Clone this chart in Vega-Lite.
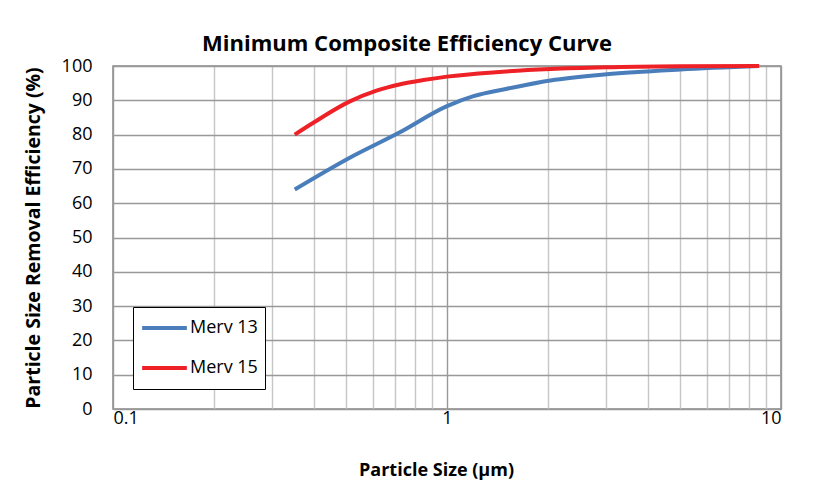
{
  "$schema": "https://vega.github.io/schema/vega-lite/v6.json",
  "width": 835,
  "height": 483,
  "autosize": {"type": "fit", "contains": "padding"},
  "padding": {"left": 23, "top": 33, "right": 54, "bottom": 4},
  "background": "white",
  "title": {
    "text": "Minimum Composite Efficiency Curve",
    "font": "Open Sans",
    "fontSize": 22,
    "fontWeight": "bold",
    "color": "#000000",
    "anchor": "middle",
    "dx": -40,
    "offset": 1
  },
  "data": {
    "values": [
      {"size": 0.35, "eff": 64.0, "series": "Merv 13"},
      {"size": 0.51, "eff": 73.2, "series": "Merv 13"},
      {"size": 0.72, "eff": 80.6, "series": "Merv 13"},
      {"size": 1.0, "eff": 88.3, "series": "Merv 13"},
      {"size": 1.2, "eff": 91.2, "series": "Merv 13"},
      {"size": 1.5, "eff": 93.3, "series": "Merv 13"},
      {"size": 2.04, "eff": 95.8, "series": "Merv 13"},
      {"size": 3.0, "eff": 97.6, "series": "Merv 13"},
      {"size": 5.0, "eff": 99.0, "series": "Merv 13"},
      {"size": 8.6, "eff": 100.0, "series": "Merv 13"},
      {"size": 0.35, "eff": 80.0, "series": "Merv 15"},
      {"size": 0.4, "eff": 83.6, "series": "Merv 15"},
      {"size": 0.51, "eff": 89.6, "series": "Merv 15"},
      {"size": 0.615, "eff": 92.8, "series": "Merv 15"},
      {"size": 0.72, "eff": 94.6, "series": "Merv 15"},
      {"size": 0.85, "eff": 95.9, "series": "Merv 15"},
      {"size": 1.0, "eff": 96.9, "series": "Merv 15"},
      {"size": 1.4, "eff": 98.2, "series": "Merv 15"},
      {"size": 2.04, "eff": 99.1, "series": "Merv 15"},
      {"size": 3.0, "eff": 99.6, "series": "Merv 15"},
      {"size": 5.0, "eff": 99.9, "series": "Merv 15"},
      {"size": 8.6, "eff": 100.0, "series": "Merv 15"}
    ]
  },
  "mark": {"type": "line", "strokeWidth": 4, "interpolate": "monotone"},
  "encoding": {
    "x": {
      "field": "size",
      "type": "quantitative",
      "scale": {"type": "log", "domain": [0.1, 10], "nice": false},
      "axis": {
        "title": "Particle Size (µm)",
        "titleFontSize": 18,
        "titleX": 323,
        "values": [0.1, 0.2, 0.3, 0.4, 0.5, 0.6, 0.7, 0.8, 0.9, 1, 2, 3, 4, 5, 6, 7, 8, 9, 10],
        "labelExpr": "datum.value == 0.1 ? '0.1' : datum.value == 1 ? '1' : datum.value == 10 ? '10' : ''",
        "labelPadding": 0,
        "titlePadding": 34,
        "gridColor": {"condition": {"test": "datum.value == 1 || datum.value == 0.1 || datum.value == 10", "value": "#999999"}, "value": "#c6c6c6"},
        "gridWidth": 1.4
      }
    },
    "y": {
      "field": "eff",
      "type": "quantitative",
      "scale": {"domain": [0, 100], "nice": false},
      "axis": {
        "title": "Particle Size Removal Efficiency (%)",
        "titleFontSize": 19.5,
        "values": [0, 10, 20, 30, 40, 50, 60, 70, 80, 90, 100],
        "labelPadding": 21,
        "titlePadding": 18,
        "gridColor": "#999999",
        "gridWidth": 1.3
      }
    },
    "color": {
      "field": "series",
      "type": "nominal",
      "scale": {"domain": ["Merv 13", "Merv 15"], "range": ["#4a7ebb", "#ee2127"]},
      "legend": {
        "title": null,
        "orient": "bottom-left",
        "offset": 20,
        "symbolType": "stroke",
        "symbolSize": 2000,
        "symbolStrokeWidth": 4,
        "clipHeight": 28,
        "labelFontSize": 18,
        "labelFont": "Open Sans",
        "labelColor": "#000000",
        "rowPadding": 12,
        "padding": 7,
        "strokeColor": "#000000",
        "fillColor": "white",
        "labelOffset": 1
      }
    }
  },
  "config": {
    "font": "Open Sans",
    "view": {"stroke": "#888888", "strokeWidth": 1.5},
    "axis": {
      "grid": true,
      "gridOpacity": 1,
      "domain": false,
      "ticks": false,
      "labelFont": "Open Sans",
      "labelFontSize": 18,
      "labelColor": "#000000",
      "titleFont": "Open Sans",
      "titleFontSize": 16,
      "titleFontWeight": "bold",
      "titleColor": "#000000"
    }
  }
}
